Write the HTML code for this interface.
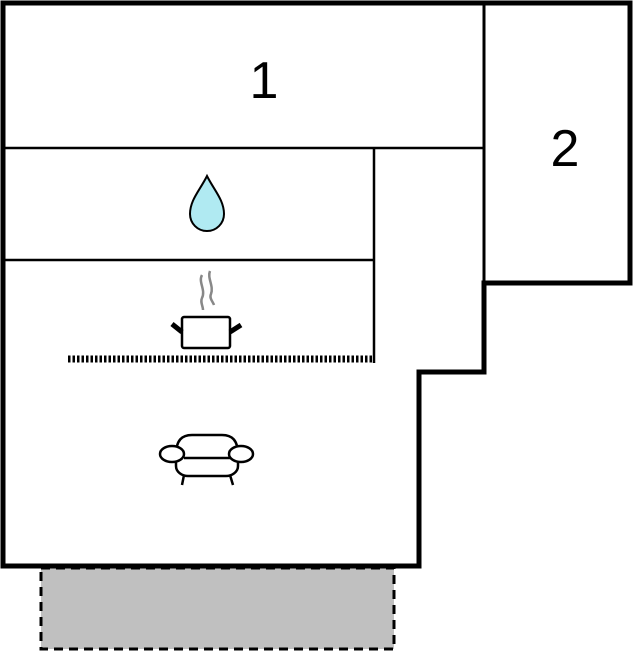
<!DOCTYPE html>
<html><head><meta charset="utf-8"><style>html,body{margin:0;padding:0;background:#fff}svg{display:block}</style></head><body>
<svg width="633" height="652" viewBox="0 0 633 652" xmlns="http://www.w3.org/2000/svg">
<rect x="41" y="568" width="353" height="81" fill="#c0c0c0" stroke="#000" stroke-width="3" stroke-dasharray="9,6"/>
<path d="M3,3 H630 V283 H484 V372 H419 V566 H3 Z" fill="#fff" stroke="#000" stroke-width="5"/>
<g stroke="#000" stroke-width="2.5" fill="none">
<line x1="3" y1="148" x2="484" y2="148"/>
<line x1="484" y1="3" x2="484" y2="283" stroke-width="3"/>
<line x1="374" y1="148" x2="374" y2="363"/>
<line x1="3" y1="260" x2="374" y2="260"/>
</g>
<line x1="68" y1="359" x2="374" y2="359" stroke="#000" stroke-width="7" stroke-dasharray="2.5,2"/>
<text x="264" y="98" font-family="Liberation Sans, sans-serif" font-size="52" text-anchor="middle">1</text>
<text x="565" y="166" font-family="Liberation Sans, sans-serif" font-size="52" text-anchor="middle">2</text>
<path d="M207,176 C200,190 190,200 190,214 A17,17 0 0 0 224,214 C224,200 214,190 207,176 Z" fill="#b0eaf2" stroke="#000" stroke-width="2"/>
<g fill="none" stroke="#888" stroke-width="2.5">
<path d="M202,275 C198,282 206,290 202,298 C200,302 203,306 203,310"/>
<path d="M210,271 C207,278 214,286 211,294 C209,298 213,302 214,305"/>
</g>
<rect x="182" y="317" width="48" height="31" rx="2" fill="#fff" stroke="#000" stroke-width="2.5"/>
<line x1="172" y1="324" x2="182" y2="332" stroke="#000" stroke-width="5"/>
<line x1="230" y1="332" x2="241" y2="325" stroke="#000" stroke-width="5"/>
<g fill="#fff" stroke="#000" stroke-width="2.5">
<path d="M184,475 L182,485 M230,475 L233,485"/>
<path d="M176,455 C176,440 182,435 192,435 H222 C232,435 238,440 238,455 V466 C238,472 232,476 226,476 H188 C182,476 176,472 176,466 Z"/>
<line x1="184" y1="458" x2="230" y2="458"/>
<ellipse cx="172" cy="454" rx="12" ry="8"/>
<ellipse cx="241" cy="454" rx="12" ry="8"/>
</g>
</svg>
</body></html>
